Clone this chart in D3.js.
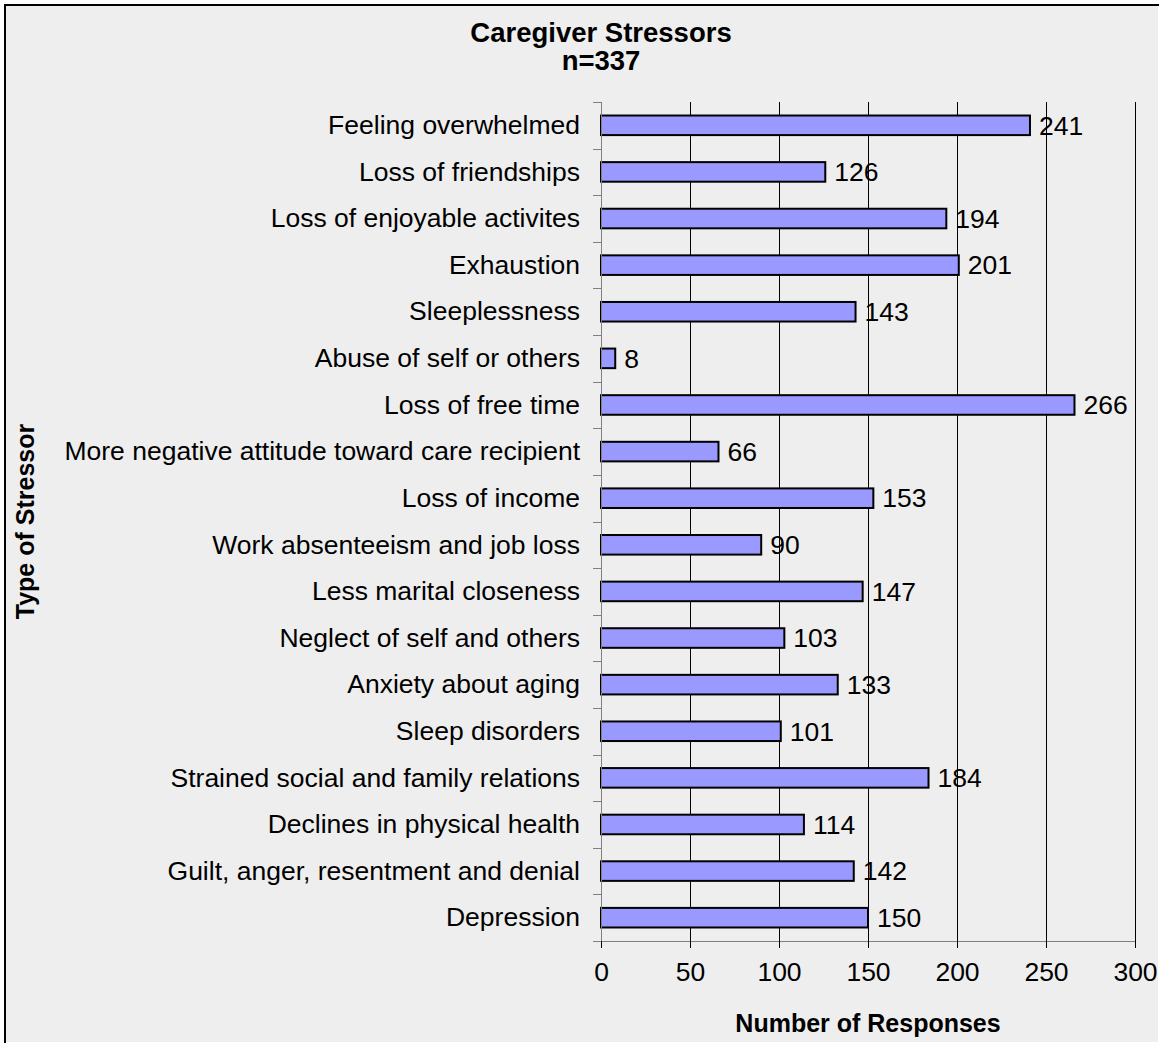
<!DOCTYPE html>
<html lang="en">
<head>
    <meta charset="UTF-8">
    <title>Caregiver Stressors</title>
    <script src="https://d3js.org/d3.v7.min.js"></script>
    <style>
        body { margin: 0; background: #ffffff; }
        svg { display: block; }
    </style>
</head>
<body>
    <script>
        // chart data, top to bottom
        const stressors = [
            "Feeling overwhelmed",
            "Loss of friendships",
            "Loss of enjoyable activites",
            "Exhaustion",
            "Sleeplessness",
            "Abuse of self or others",
            "Loss of free time",
            "More negative attitude toward care recipient",
            "Loss of income",
            "Work absenteeism and job loss",
            "Less marital closeness",
            "Neglect of self and others",
            "Anxiety about aging",
            "Sleep disorders",
            "Strained social and family relations",
            "Declines in physical health",
            "Guilt, anger, resentment and denial",
            "Depression"
        ];
        const responses = [241, 126, 194, 201, 143, 8, 266, 66, 153, 90, 147, 103, 133, 101, 184, 114, 142, 150];
        const xTicks = [0, 50, 100, 150, 200, 250, 300];

        const width = 1159, height = 1043;
        const margin = { top: 102, right: 24, bottom: 102, left: 601 };
        const innerWidth = width - margin.left - margin.right;
        const innerHeight = height - margin.top - margin.bottom;
        const font = "Liberation Sans, Arial, sans-serif";

        const svg = d3.select("body").append("svg")
            .attr("width", width)
            .attr("height", height)
            .attr("font-family", font);

        // chart area background; only left and top edges of the frame are visible
        svg.append("rect")
            .attr("x", 5).attr("y", 5)
            .attr("width", width - 6).attr("height", height - 6)
            .attr("fill", "#eeeeee");
        svg.append("path")
            .attr("d", `M5,${height}V5H${width}`)
            .attr("fill", "none")
            .attr("stroke", "#000")
            .attr("stroke-width", 2);

        const g = svg.append("g")
            .attr("transform", `translate(${margin.left},${margin.top})`);

        const x = d3.scaleLinear().domain([0, 300]).range([0, innerWidth]);
        const y = d3.scaleBand().domain(stressors).range([0, innerHeight]).paddingInner(0.58).paddingOuter(0.29);
        const yBand = d3.scaleBand().domain(stressors).range([0, innerHeight]);

        // vertical gridlines
        g.append("g")
            .selectAll("line")
            .data(xTicks.slice(1))
            .enter().append("line")
            .attr("x1", d => x(d)).attr("x2", d => x(d))
            .attr("y1", 0).attr("y2", innerHeight)
            .attr("stroke", "#000")
            .attr("stroke-width", 1)
            .attr("shape-rendering", "crispEdges");

        // bars
        g.append("g")
            .selectAll("rect")
            .data(stressors)
            .enter().append("rect")
            .attr("x", x(0))
            .attr("y", d => y(d))
            .attr("width", (d, i) => x(responses[i]) - x(0))
            .attr("height", y.bandwidth())
            .attr("fill", "#9999ff")
            .attr("stroke", "#000")
            .attr("stroke-width", 2);

        // value labels
        g.append("g")
            .selectAll("text")
            .data(stressors)
            .enter().append("text")
            .attr("x", (d, i) => x(responses[i]) + 9)
            .attr("y", d => y(d) + y.bandwidth() / 2)
            .attr("dy", "0.35em")
            .attr("font-size", 26.5)
            .attr("fill", "#000")
            .text((d, i) => responses[i]);

        // x axis
        const xAxis = g.append("g")
            .attr("transform", `translate(0,${innerHeight})`)
            .call(d3.axisBottom(x).tickValues(xTicks).tickSize(7).tickPadding(14));
        xAxis.attr("font-family", font).attr("font-size", 26.5);
        xAxis.select(".domain").attr("stroke", "#808080").attr("d", `M-8,0.5H${innerWidth}`);
        xAxis.selectAll(".tick line").attr("stroke", "#000");

        // y axis: ticks on band boundaries, labels at band centres
        const yAxis = g.append("g");
        yAxis.append("line")
            .attr("x1", 0.5).attr("x2", 0.5)
            .attr("y1", 0).attr("y2", innerHeight)
            .attr("stroke", "#808080");
        yAxis.selectAll("line.tick")
            .data(stressors)
            .enter().append("line")
            .attr("class", "tick")
            .attr("x1", -8).attr("x2", 0)
            .attr("y1", d => Math.round(yBand(d)) + 0.5)
            .attr("y2", d => Math.round(yBand(d)) + 0.5)
            .attr("stroke", "#808080");
        yAxis.selectAll("text")
            .data(stressors)
            .enter().append("text")
            .attr("x", -21)
            .attr("y", d => yBand(d) + yBand.bandwidth() / 2)
            .attr("dy", "0.33em")
            .attr("text-anchor", "end")
            .attr("font-size", 26.5)
            .attr("fill", "#000")
            .text(d => d);

        // titles
        svg.append("text")
            .attr("x", 601).attr("y", 42)
            .attr("text-anchor", "middle")
            .attr("font-size", 27.5)
            .attr("font-weight", "bold")
            .text("Caregiver Stressors");
        svg.append("text")
            .attr("x", 601).attr("y", 70)
            .attr("text-anchor", "middle")
            .attr("font-size", 27.5)
            .attr("font-weight", "bold")
            .text("n=337");

        svg.append("text")
            .attr("x", margin.left + innerWidth / 2).attr("y", 1032)
            .attr("text-anchor", "middle")
            .attr("font-size", 25)
            .attr("font-weight", "bold")
            .text("Number of Responses");

        svg.append("text")
            .attr("transform", `translate(34,${margin.top + innerHeight / 2}) rotate(-90)`)
            .attr("text-anchor", "middle")
            .attr("font-size", 25)
            .attr("font-weight", "bold")
            .text("Type of Stressor");
    </script>
</body>
</html>
